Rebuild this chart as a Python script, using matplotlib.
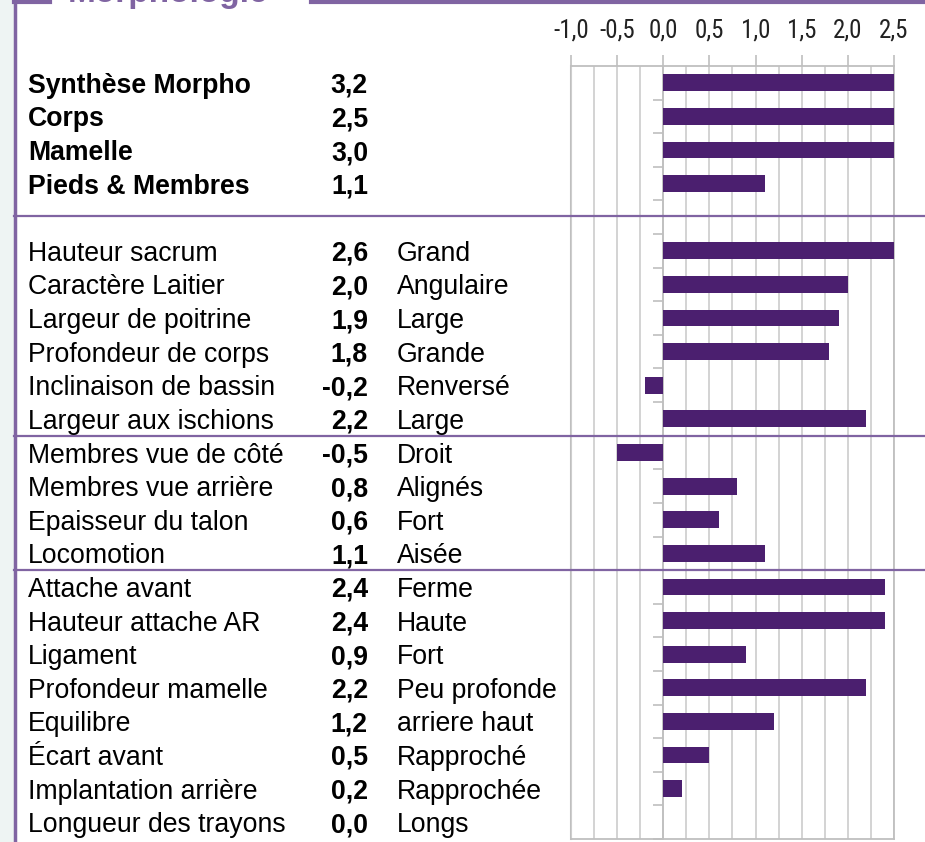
import matplotlib
matplotlib.use("Agg")
import matplotlib.pyplot as plt
import matplotlib.transforms as mtransforms
from matplotlib import font_manager
from matplotlib.lines import Line2D
from matplotlib.patches import Rectangle
from matplotlib.ticker import MultipleLocator, FuncFormatter

# Données
synthese_labels = ['Synthèse Morpho', 'Corps', 'Mamelle', 'Pieds & Membres']
synthese_valeurs = [3.2, 2.5, 3.0, 1.1]

detail_labels = ['Hauteur sacrum', 'Caractère Laitier', 'Largeur de poitrine', 'Profondeur de corps',
                 'Inclinaison de bassin', 'Largeur aux ischions', 'Membres vue de côté',
                 'Membres vue arrière', 'Epaisseur du talon', 'Locomotion', 'Attache avant',
                 'Hauteur attache AR', 'Ligament', 'Profondeur mamelle', 'Equilibre', 'Écart avant',
                 'Implantation arrière', 'Longueur des trayons']
detail_valeurs = [2.6, 2.0, 1.9, 1.8, -0.2, 2.2, -0.5, 0.8, 0.6, 1.1, 2.4, 2.4, 0.9, 2.2, 1.2, 0.5, 0.2, 0.0]
detail_qualif = ['Grand', 'Angulaire', 'Large', 'Grande', 'Renversé', 'Large', 'Droit', 'Alignés',
                 'Fort', 'Aisée', 'Ferme', 'Haute', 'Fort', 'Peu profonde', 'arriere haut',
                 'Rapproché', 'Rapprochée', 'Longs']

violet_barre = '#4B1F6F'
violet_trait = '#8064A2'
gris_grille = '#D0D0D0'
gris_axe = '#BFBFBF'

W, H = 925, 842
plt.rcParams['font.family'] = ['Liberation Sans', 'DejaVu Sans']

# police étroite pour les graduations si disponible
polices = font_manager.fontManager.ttflist
noms = {f.name for f in polices}
ticks_font = dict(labelfontfamily='Liberation Sans', labelsize=16.5)
if 'Liberation Sans Narrow' in noms:
    ticks_font = dict(labelfontfamily='Liberation Sans Narrow', labelsize=18)
elif 'Roboto Condensed' in noms:
    ticks_font = dict(labelfontfamily='Roboto Condensed', labelsize=18)
elif any(f.name == 'DejaVu Sans' and f.stretch == 'condensed' for f in polices):
    ticks_font = dict(labelfontfamily='DejaVu Sans', labelsize=16)

fig = plt.figure(figsize=(W / 100, H / 100), dpi=100)
fig.patch.set_facecolor('white')

# fond hors cadre
fig.add_artist(Rectangle((0, 0), 14 / W, 1, transform=fig.transFigure, color='#EEF4F3', zorder=0))

ax = fig.add_axes([571 / W, 1 - 839 / H, 323 / W, 773 / H])

# positions des lignes (ligne vide entre synthèse et détail)
y_synth = list(range(len(synthese_labels)))
y_detail = [len(synthese_labels) + 1 + i for i in range(len(detail_labels))]
n_lignes = len(synthese_labels) + 1 + len(detail_labels)

ax.barh(y_synth, synthese_valeurs, height=0.5, color=violet_barre, zorder=3)
ax.barh(y_detail, detail_valeurs, height=0.5, color=violet_barre, zorder=3)

ax.set_xlim(-1.0, 2.5)
ax.set_ylim(n_lignes - 0.5, -0.5)

# axe x en haut
ax.xaxis.tick_top()
ax.xaxis.set_major_locator(MultipleLocator(0.5))
ax.xaxis.set_minor_locator(MultipleLocator(0.25))
ax.xaxis.set_major_formatter(FuncFormatter(lambda v, p: f'{v:.1f}'.replace('.', ',')))
ax.tick_params(axis='x', which='major', length=8, width=1.2, color=gris_axe, pad=9,
               labelcolor='#222222', **ticks_font)
ax.tick_params(axis='x', which='minor', length=0)
if ticks_font['labelfontfamily'] == 'DejaVu Sans':
    for lab in ax.get_xticklabels():
        lab.set_stretch('condensed')
ax.grid(True, axis='x', which='both', color=gris_grille, linewidth=1.3, zorder=0)

# axe y sur zéro, ticks aux limites des catégories
ax.spines['left'].set_position(('data', 0))
ax.set_yticks([i + 0.5 for i in range(n_lignes)])
ax.set_yticklabels([])
ax.tick_params(axis='y', length=7, width=1.2, color=gris_axe, direction='out')
for s in ['left', 'right', 'top', 'bottom']:
    ax.spines[s].set_color(gris_axe)
    ax.spines[s].set_linewidth(1.3)
ax.axvline(-1.0, color=gris_axe, linewidth=1.5, clip_on=False, zorder=1)

# textes à gauche
trans = mtransforms.blended_transform_factory(fig.transFigure, ax.transData)
x_lab, x_val, x_qual = 28 / W, 368 / W, 397 / W
fs = 19.2

def fmt(v):
    return f'{v:.1f}'.replace('.', ',')

for y, lab, v in zip(y_synth, synthese_labels, synthese_valeurs):
    fig.text(x_lab, y, lab, transform=trans, va='center_baseline', ha='left', fontsize=fs, fontweight='bold')
    fig.text(x_val, y, fmt(v), transform=trans, va='center_baseline', ha='right', fontsize=fs, fontweight='bold')

for y, lab, v, q in zip(y_detail, detail_labels, detail_valeurs, detail_qualif):
    fig.text(x_lab, y, lab, transform=trans, va='center_baseline', ha='left', fontsize=fs)
    fig.text(x_val, y, fmt(v), transform=trans, va='center_baseline', ha='right', fontsize=fs, fontweight='bold')
    fig.text(x_qual, y, q, transform=trans, va='center_baseline', ha='left', fontsize=fs)

# séparateurs violets
for y_sep in [3.95, y_detail[5] + 0.5, y_detail[9] + 0.5]:
    fig.add_artist(Line2D([14 / W, 1], [y_sep, y_sep], transform=trans, color=violet_trait, linewidth=1.6))

# cadre
fig.add_artist(Line2D([15 / W, 15 / W], [0, 1], transform=fig.transFigure, color=violet_trait, linewidth=2.5))
fig.add_artist(Line2D([14 / W, 50 / W], [1 - 1.5 / H, 1 - 1.5 / H], transform=fig.transFigure,
                      color=violet_trait, linewidth=3))
fig.add_artist(Line2D([311 / W, 1], [1 - 1.5 / H, 1 - 1.5 / H], transform=fig.transFigure,
                      color=violet_trait, linewidth=3))
fig.text(68 / W, 1 - 2 / H, 'Morphologie', fontsize=24, fontweight='bold', color=violet_trait,
         va='baseline', ha='left')

fig.savefig('out.png', dpi=100)
